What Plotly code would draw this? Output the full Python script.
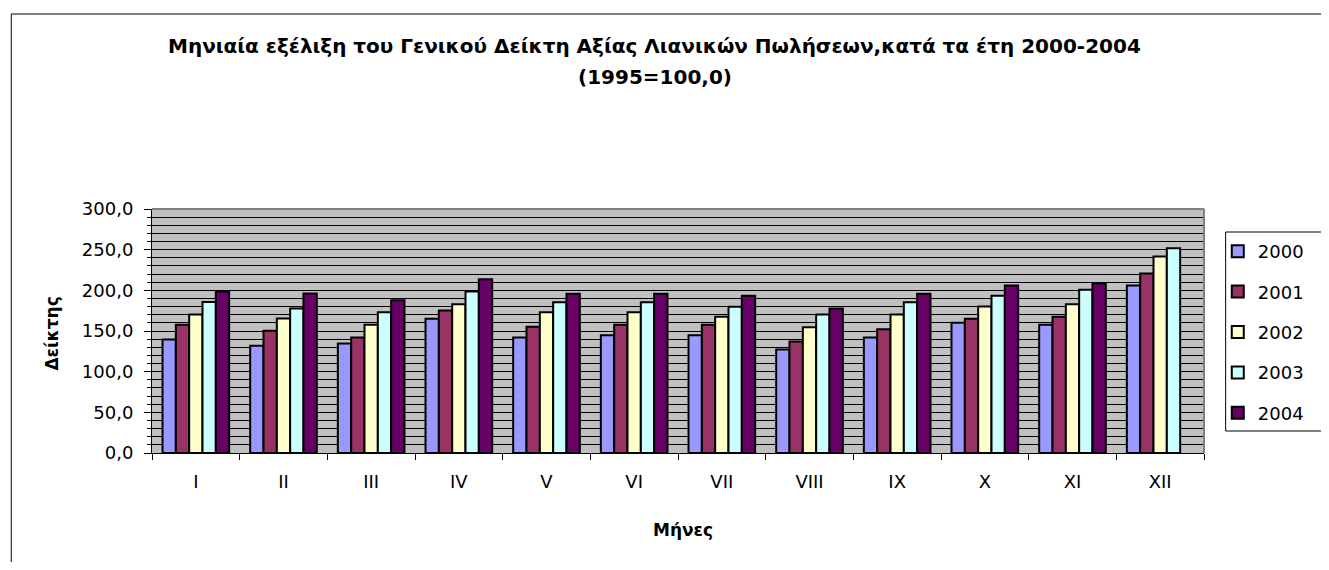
import plotly.graph_objects as go

months = ["I", "II", "III", "IV", "V", "VI", "VII", "VIII", "IX", "X", "XI", "XII"]
years = ["2000", "2001", "2002", "2003", "2004"]
v2000 = [139.6, 131.8, 134.7, 165.0, 142.0, 144.9, 144.9, 127.3, 142.0, 160.0, 157.6, 205.9]
v2001 = [157.6, 150.2, 142.0, 175.2, 155.1, 157.6, 157.6, 137.1, 152.3, 165.0, 167.4, 220.6]
v2002 = [170.3, 165.4, 157.6, 183.0, 173.1, 173.1, 167.4, 154.7, 170.3, 180.1, 183.0, 241.5]
v2003 = [185.8, 177.6, 173.1, 198.5, 185.4, 185.4, 179.7, 170.3, 185.4, 193.2, 200.6, 251.7]
v2004 = [198.5, 196.1, 187.9, 213.7, 195.7, 195.7, 193.2, 177.6, 195.7, 205.9, 208.4, None]
series = [v2000, v2001, v2002, v2003, v2004]
colors = ["#9999FF", "#993366", "#FFFFCC", "#CCFFFF", "#660066"]

OFF = 8  # page body margin
W, H = 1329 - 2 * OFF, 570 - 2 * OFF
# plot area in screen pixels, converted to figure pixels
L, R, T, B = 152 - OFF, 1221 - OFF, 209 - OFF, 453 - OFF

fig = go.Figure()
for name, vals, col in zip(years, series, colors):
    fig.add_trace(go.Bar(
        x=months, y=vals, name=name, legendgroup=name,
        marker=dict(color=col, line=dict(color="black", width=2)),
    ))

font = "DejaVu Sans, sans-serif"

def px_x(p):
    return (p - OFF - L) / (R - L)

def px_y(p):
    return (B - (p - OFF)) / (B - T)

fig.update_layout(
    width=W, height=H,
    margin=dict(l=L, r=W - R, t=T, b=H - B, pad=0),
    paper_bgcolor="white",
    plot_bgcolor="#C0C0C0",
    separators=", ",
    barmode="group",
    bargap=0.24,
    bargroupgap=0,
    font=dict(family=font, size=17, color="black"),
    showlegend=True,
    legend=dict(
        x=px_x(1235), y=px_y(233), xanchor="left", yanchor="top",
        bgcolor="rgba(0,0,0,0)", borderwidth=0,
        font=dict(family=font, size=18, color="black"),
        traceorder="grouped", tracegroupgap=14,
        itemwidth=30,
    ),
    xaxis=dict(
        showgrid=False, ticks="outside", ticklen=6, tickcolor="black",
        tickson="boundaries", showline=True, linecolor="black", linewidth=1,
        tickfont=dict(family=font, size=18),
        ticklabelstandoff=12,
        fixedrange=True,
    ),
    yaxis=dict(
        range=[0, 300], tickmode="linear", tick0=0, dtick=50, tickformat=".1f",
        showgrid=True, gridcolor="black", gridwidth=1,
        ticks="outside", ticklen=7, tickcolor="black",
        minor=dict(dtick=10, showgrid=True, gridcolor="black", gridwidth=1,
                   ticks="outside", ticklen=4, tickcolor="black"),
        showline=True, linecolor="black", linewidth=1,
        tickfont=dict(family=font, size=18),
        ticklabelstandoff=7,
        zeroline=False,
        fixedrange=True,
    ),
)

# plot-area border (grey, top and right)
fig.add_shape(type="line", xref="paper", yref="paper", x0=0, x1=1, y0=1, y1=1,
              line=dict(color="#808080", width=2))
fig.add_shape(type="line", xref="paper", yref="paper", x0=1, x1=1, y0=0, y1=1,
              line=dict(color="#808080", width=2))

# outer chart border
fig.add_shape(type="rect", xref="paper", yref="paper",
              x0=px_x(9), x1=px_x(1345), y0=px_y(14), y1=px_y(590),
              line=dict(color="black", width=1), fillcolor="rgba(0,0,0,0)", layer="below")
# legend box
fig.add_shape(type="rect", xref="paper", yref="paper",
              x0=px_x(1243), x1=px_x(1345), y0=px_y(232), y1=px_y(431),
              line=dict(color="black", width=1), fillcolor="white", layer="below")

# title
fig.add_annotation(xref="paper", yref="paper", x=px_x(663), y=px_y(46),
                   text="<b>Μηνιαία εξέλιξη του Γενικού Δείκτη Αξίας Λιανικών Πωλήσεων,κατά τα έτη 2000-2004</b>",
                   showarrow=False, xanchor="center", yanchor="middle",
                   font=dict(family=font, size=20))
fig.add_annotation(xref="paper", yref="paper", x=px_x(663), y=px_y(77),
                   text="<b>(1995=100,0)</b>",
                   showarrow=False, xanchor="center", yanchor="middle",
                   font=dict(family=font, size=20))
# y axis title
fig.add_annotation(xref="paper", yref="paper", x=px_x(50), y=px_y(334),
                   text="<b>Δείκτης</b>", textangle=-90,
                   showarrow=False, xanchor="center", yanchor="middle",
                   font=dict(family=font, size=17))
# x axis title
fig.add_annotation(xref="paper", yref="paper", x=px_x(692), y=px_y(530),
                   text="<b>Μήνες</b>",
                   showarrow=False, xanchor="center", yanchor="middle",
                   font=dict(family=font, size=17))

fig.write_html("out.html")
